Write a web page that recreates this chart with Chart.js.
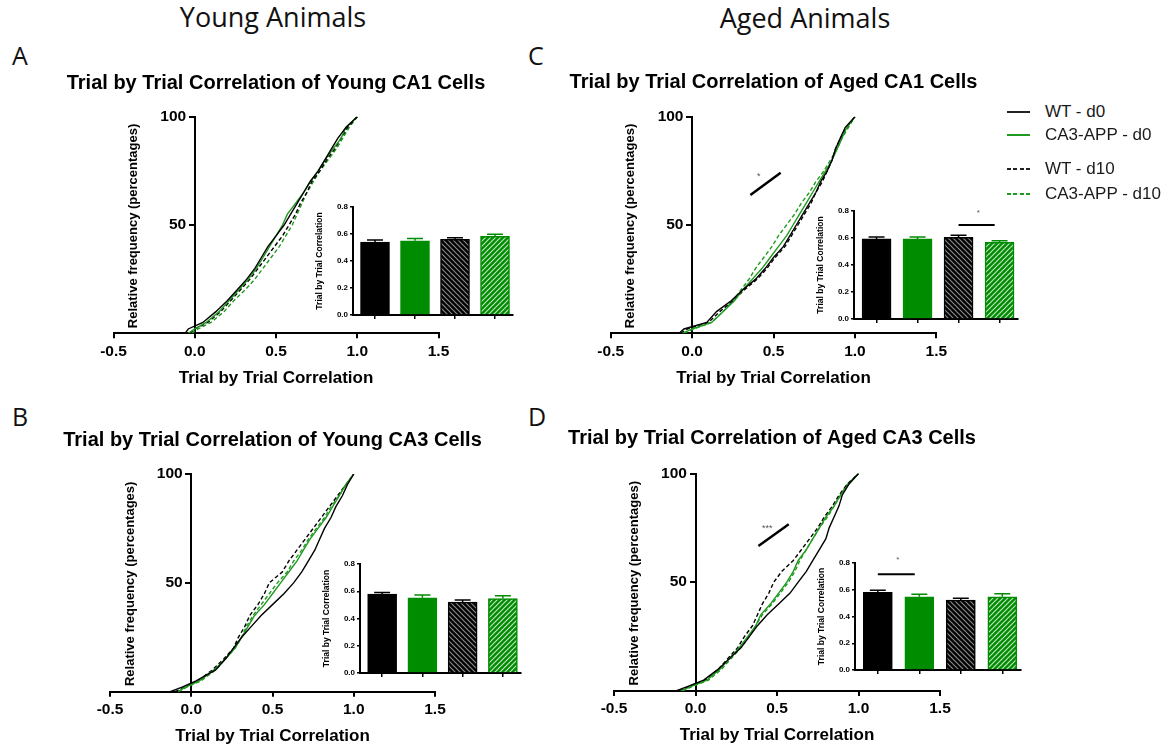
<!DOCTYPE html>
<html><head><meta charset="utf-8">
<script src="https://cdn.jsdelivr.net/npm/chart.js@4.4.1/dist/chart.umd.min.js"></script>
<style>
html,body{margin:0;padding:0;background:#fff;}
body{width:1174px;height:749px;position:relative;overflow:hidden;font-family:"Liberation Sans",Arial,sans-serif;}
canvas{position:absolute;}
.hdr{position:absolute;font-family:"Open Sans",sans-serif;font-size:27px;color:#111;white-space:nowrap;line-height:27px;transform:translateX(-50%);}
.let{position:absolute;font-family:"Open Sans",sans-serif;font-size:25px;color:#111;line-height:25px;}
.lg{position:absolute;left:1007px;height:20px;display:flex;align-items:center;white-space:nowrap;font-size:17px;color:#1a1a1a;}
.sw{width:23px;height:2px;margin-right:15px;}
</style></head><body>
<div class="hdr" style="left:273px;top:3px">Young Animals</div>
<div class="hdr" style="left:805px;top:4px">Aged Animals</div>
<div class="let" style="left:12px;top:43px">A</div>
<div class="let" style="left:12px;top:404px">B</div>
<div class="let" style="left:528px;top:43px">C</div>
<div class="let" style="left:528px;top:404px">D</div>

<canvas id="cA"></canvas><canvas id="cB"></canvas><canvas id="cC"></canvas><canvas id="cD"></canvas>
<canvas id="iA"></canvas><canvas id="iB"></canvas><canvas id="iC"></canvas><canvas id="iD"></canvas>
<div id="legend"></div>

<script>
// ---------------- DATA ----------------
const PCT = [0, 2, 5, 10, 15, 20, 25, 30, 35, 40, 45, 50, 55, 60, 65, 70, 75, 80, 85, 90, 95, 100];
const SERIES_NAMES = ['WT - d0', 'CA3-APP - d0', 'WT - d10', 'CA3-APP - d10'];

// Panel A: Young CA1 (x = correlation value at each cumulative percentage)
const A_WT_D0   = [-0.06, -0.04, 0.05, 0.13, 0.20, 0.26, 0.32, 0.37, 0.41, 0.45, 0.50, 0.55, 0.59, 0.63, 0.67, 0.71, 0.76, 0.80, 0.84, 0.88, 0.93, 1.00];
const A_APP_D0  = [-0.04, 0.00, 0.07, 0.15, 0.21, 0.27, 0.33, 0.38, 0.42, 0.46, 0.50, 0.54, 0.57, 0.62, 0.67, 0.71, 0.76, 0.80, 0.85, 0.90, 0.93, 1.00];
const A_WT_D10  = [-0.03, 0.00, 0.08, 0.16, 0.22, 0.28, 0.34, 0.39, 0.44, 0.49, 0.54, 0.58, 0.62, 0.65, 0.69, 0.72, 0.77, 0.81, 0.86, 0.90, 0.94, 1.00];
const A_APP_D10 = [-0.02, 0.02, 0.10, 0.18, 0.24, 0.31, 0.37, 0.42, 0.47, 0.52, 0.56, 0.60, 0.63, 0.66, 0.69, 0.73, 0.77, 0.82, 0.87, 0.91, 0.95, 1.00];
// Panel B: Young CA3
const B_WT_D0   = [-0.13, -0.06, 0.03, 0.15, 0.21, 0.26, 0.31, 0.37, 0.43, 0.50, 0.57, 0.63, 0.68, 0.72, 0.76, 0.79, 0.82, 0.86, 0.89, 0.93, 0.96, 1.00];
const B_APP_D0  = [-0.08, -0.04, 0.05, 0.14, 0.21, 0.27, 0.31, 0.35, 0.39, 0.45, 0.50, 0.55, 0.60, 0.65, 0.69, 0.73, 0.78, 0.83, 0.87, 0.91, 0.95, 1.00];
const B_WT_D10  = [-0.10, -0.04, 0.04, 0.13, 0.20, 0.26, 0.29, 0.33, 0.36, 0.41, 0.45, 0.48, 0.56, 0.60, 0.65, 0.70, 0.75, 0.80, 0.85, 0.90, 0.95, 1.00];
const B_APP_D10 = [-0.08, -0.03, 0.06, 0.15, 0.21, 0.27, 0.31, 0.34, 0.38, 0.43, 0.48, 0.53, 0.59, 0.63, 0.68, 0.72, 0.77, 0.82, 0.86, 0.91, 0.95, 1.00];
// Panel C: Aged CA1
const C_WT_D0   = [-0.08, -0.05, 0.09, 0.15, 0.24, 0.31, 0.39, 0.45, 0.50, 0.56, 0.60, 0.64, 0.68, 0.72, 0.76, 0.79, 0.83, 0.86, 0.88, 0.91, 0.94, 1.00];
const C_APP_D0  = [-0.06, 0.00, 0.12, 0.19, 0.26, 0.31, 0.37, 0.43, 0.48, 0.53, 0.58, 0.62, 0.66, 0.70, 0.74, 0.78, 0.82, 0.86, 0.89, 0.92, 0.95, 1.00];
const C_WT_D10  = [-0.07, -0.03, 0.10, 0.17, 0.25, 0.32, 0.40, 0.46, 0.51, 0.57, 0.61, 0.65, 0.69, 0.73, 0.76, 0.80, 0.83, 0.86, 0.88, 0.91, 0.95, 1.00];
const C_APP_D10 = [-0.05, 0.01, 0.12, 0.19, 0.25, 0.30, 0.35, 0.39, 0.44, 0.49, 0.53, 0.58, 0.63, 0.67, 0.72, 0.76, 0.81, 0.85, 0.89, 0.92, 0.96, 1.00];
// Panel D: Aged CA3
const D_WT_D0   = [-0.12, -0.05, 0.05, 0.14, 0.21, 0.28, 0.33, 0.38, 0.44, 0.51, 0.58, 0.63, 0.68, 0.72, 0.76, 0.80, 0.82, 0.85, 0.88, 0.90, 0.94, 1.00];
const D_APP_D0  = [-0.09, -0.03, 0.07, 0.15, 0.21, 0.27, 0.32, 0.37, 0.40, 0.46, 0.51, 0.56, 0.60, 0.63, 0.68, 0.72, 0.76, 0.80, 0.85, 0.89, 0.94, 1.00];
const D_WT_D10  = [-0.10, -0.04, 0.06, 0.14, 0.20, 0.26, 0.30, 0.35, 0.38, 0.41, 0.45, 0.48, 0.53, 0.60, 0.65, 0.70, 0.75, 0.79, 0.84, 0.88, 0.93, 1.00];
const D_APP_D10 = [-0.08, -0.02, 0.08, 0.16, 0.22, 0.28, 0.33, 0.37, 0.41, 0.47, 0.52, 0.57, 0.61, 0.64, 0.68, 0.72, 0.76, 0.81, 0.85, 0.89, 0.93, 1.00];

// Inset bar charts: mean and SEM (order: WT-d0, CA3-APP-d0, WT-d10, CA3-APP-d10)
const A_BAR_MEAN = [0.540, 0.550, 0.560, 0.582];
const A_BAR_SEM  = [0.015, 0.017, 0.012, 0.017];
const B_BAR_MEAN = [0.579, 0.552, 0.520, 0.547];
const B_BAR_SEM  = [0.012, 0.020, 0.015, 0.020];
const C_BAR_MEAN = [0.593, 0.593, 0.605, 0.568];
const C_BAR_SEM  = [0.014, 0.014, 0.015, 0.012];
const D_BAR_MEAN = [0.581, 0.547, 0.522, 0.547];
const D_BAR_SEM  = [0.015, 0.019, 0.015, 0.024];

const X_TICKS_MAIN = [-0.5, 0.0, 0.5, 1.0, 1.5];
const Y_TICKS_MAIN = [0, 50, 100];
const Y_TICKS_INSET = [0.0, 0.2, 0.4, 0.6, 0.8];

// ---------------- STYLE / LAYOUT ----------------
Chart.defaults.font.family = '"Liberation Sans", Arial, Helvetica, sans-serif';
Chart.defaults.color = '#000';
const BLACK = '#000000', GREEN_LINE = '#1f9a1f', GREEN_BAR = '#008c00';

const LAYOUT = {
  A: {rect:{x:0, y:50, w:552, h:350}, area:{l:113.5, r:438.5, t:116.7, b:333.3}, titleY:83.0, xTitleOff:45.0,
      inset:{ax:353, right:513, top:206.5, bottom:314.3}},
  B: {rect:{x:0, y:405, w:545, h:344}, area:{l:110, r:435, t:474, b:691.7}, titleY:440.0, xTitleOff:44.5,
      inset:{ax:360, right:521, top:564, bottom:672.7}},
  C: {rect:{x:540, y:50, w:467.2, h:350}, area:{l:610.7, r:936.5, t:116.7, b:333.3}, titleY:82.0, xTitleOff:45.0,
      inset:{ax:853.5, right:1017.7, top:211, bottom:319}},
  D: {rect:{x:550, y:405, w:444, h:344}, area:{l:614, r:940, t:473.5, b:690.9}, titleY:438.5, xTitleOff:44.0,
      inset:{ax:855, right:1021, top:563.3, bottom:670.7}}
};

function place(cv, r) {
  cv.width = Math.round(r.w); cv.height = Math.round(r.h);
  cv.style.left = r.x + 'px'; cv.style.top = r.y + 'px';
  cv.style.width = Math.round(r.w) + 'px'; cv.style.height = Math.round(r.h) + 'px';
}

const yTitlePlugin = {
  id: 'yTitle',
  afterDraw(chart, args, o) {
    const {ctx, chartArea} = chart;
    ctx.save();
    ctx.translate(chartArea.left + o.dx, (chartArea.top + chartArea.bottom) / 2 + o.dy);
    ctx.rotate(-Math.PI / 2);
    ctx.font = 'bold ' + o.size + 'px "Liberation Sans", Arial, sans-serif';
    ctx.fillStyle = '#000'; ctx.textAlign = 'center'; ctx.textBaseline = 'middle';
    ctx.fillText(o.text, 0, 0);
    ctx.restore();
  }
};

const sigPlugin = {
  id: 'sig',
  afterDraw(chart, args, o) {
    if (!o || !o.lines) return;
    const {ctx} = chart; const xs = chart.scales.x, ys = chart.scales.y;
    ctx.save();
    ctx.strokeStyle = '#000'; ctx.lineWidth = o.lw; ctx.lineCap = 'butt';
    o.lines.forEach(l => {
      ctx.beginPath();
      ctx.moveTo(xs.getPixelForValue(l[0]), ys.getPixelForValue(l[1]));
      ctx.lineTo(xs.getPixelForValue(l[2]), ys.getPixelForValue(l[3]));
      ctx.stroke();
    });
    ctx.fillStyle = '#555'; ctx.textAlign = 'center'; ctx.textBaseline = 'middle';
    ctx.font = o.fs + 'px "Liberation Sans", Arial, sans-serif';
    o.texts.forEach(t => ctx.fillText(t[2], xs.getPixelForValue(t[0]), ys.getPixelForValue(t[1])));
    ctx.restore();
  }
};

const errPlugin = {
  id: 'err',
  afterDatasetsDraw(chart, args, o) {
    const {ctx} = chart; const ys = chart.scales.y;
    const ds = chart.data.datasets[0]; const meta = chart.getDatasetMeta(0);
    ctx.save(); ctx.lineWidth = 1.5;
    meta.data.forEach((el, i) => {
      const top = ys.getPixelForValue(ds.data[i].y + o.sems[i]);
      const w = el.width * 0.55;
      ctx.strokeStyle = o.colors[i];
      ctx.beginPath();
      ctx.moveTo(el.x, el.y); ctx.lineTo(el.x, top);
      ctx.moveTo(el.x - w / 2, top); ctx.lineTo(el.x + w / 2, top);
      ctx.stroke();
    });
    ctx.restore();
  }
};

function spacer(pos, w) {
  return {type: 'linear', axis: 'y', position: pos, display: true, min: 0, max: 1,
          ticks: {display: false}, grid: {display: false}, border: {display: false},
          afterFit: s => { s.width = w; }};
}

function cdfDatasets(s) {
  const styles = [[BLACK, []], [GREEN_LINE, []], [BLACK, [4, 2.5]], [GREEN_LINE, [4, 2.5]]];
  return s.map((xs, k) => ({
    label: SERIES_NAMES[k],
    xAxisID: 'x', yAxisID: 'y',
    data: PCT.map((p, i) => ({x: xs[i], y: p})),
    borderColor: styles[k][0], borderDash: styles[k][1], borderWidth: 1.4,
    pointRadius: 0, showLine: true, fill: false, tension: 0
  }));
}

function makeCdf(id, L, title, series, sig) {
  const cv = document.getElementById(id); place(cv, L.rect);
  const r = L.rect, a = L.area;
  const TS = 20, tlh = TS * 1.2, XH = 60, XTS = 17;
  new Chart(cv, {
    type: 'scatter',
    data: {datasets: cdfDatasets(series)},
    options: {
      responsive: false, animation: false, events: [],
      layout: {padding: {left: 0, right: 0, top: L.titleY - r.y - tlh / 2, bottom: r.y + r.h - (a.b + XH)}},
      plugins: {
        legend: {display: false}, tooltip: {enabled: false},
        title: {display: true, text: title, fullSize: true, color: '#000', font: {size: TS, weight: 'bold'},
                padding: {top: 0, bottom: a.t - L.titleY - tlh / 2}},
        yTitle: {text: 'Relative frequency (percentages)', size: 13, dx: 20, dy: 1},
        sig: sig
      },
      scales: {
        x: {
          type: 'linear', axis: 'x', position: 'bottom', min: X_TICKS_MAIN[0], max: X_TICKS_MAIN[X_TICKS_MAIN.length - 1],
          afterFit: s => { s.height = XH; },
          afterBuildTicks: s => { s.ticks = X_TICKS_MAIN.map(v => ({value: v})); },
          ticks: {callback: v => Number(v).toFixed(1), font: {size: 15.5, weight: 'bold'}, color: '#000', padding: 4, maxRotation: 0, autoSkip: false},
          grid: {drawOnChartArea: false, tickLength: 5, color: '#000', lineWidth: 2},
          border: {color: '#000', width: 2},
          title: {display: true, text: 'Trial by Trial Correlation', color: '#000', font: {size: XTS, weight: 'bold'},
                  padding: {top: 0, bottom: XH - L.xTitleOff - XTS * 0.6}}
        },
        y: {
          type: 'linear', axis: 'y', min: 0, max: 100, position: {x: 0},
          afterBuildTicks: s => { s.ticks = Y_TICKS_MAIN.map(v => ({value: v})); },
          ticks: {callback: v => v === 0 ? '' : v + '  ', font: {size: 15.5, weight: 'bold'}, color: '#000'},
          grid: {drawOnChartArea: false, tickLength: 5, color: '#000', lineWidth: 2},
          border: {color: '#000', width: 2}
        },
        padL: spacer('left', a.l - r.x),
        padR: spacer('right', r.x + r.w - a.r)
      }
    },
    plugins: [yTitlePlugin, sigPlugin]
  });
}

function hatch(ctx, bg, fg, dir) {
  const c = document.createElement('canvas'); c.width = 5; c.height = 5;
  const g = c.getContext('2d');
  g.fillStyle = bg; g.fillRect(0, 0, 5, 5);
  g.strokeStyle = fg; g.lineWidth = 1.2; g.beginPath();
  if (dir > 0) { g.moveTo(-1, 6); g.lineTo(6, -1); g.moveTo(-1, 1); g.lineTo(1, -1); g.moveTo(4, 6); g.lineTo(6, 4); }
  else { g.moveTo(-1, -1); g.lineTo(6, 6); g.moveTo(4, -1); g.lineTo(6, 1); g.moveTo(-1, 4); g.lineTo(1, 6); }
  g.stroke();
  return ctx.createPattern(c, 'repeat');
}

function makeInset(id, G, means, sems, sig) {
  const cv = document.getElementById(id);
  const rect = {x: G.ax - 50, y: G.top - 12, w: (G.right + 8) - (G.ax - 50), h: (G.bottom + 12) - (G.top - 12)};
  place(cv, rect);
  const ctx = cv.getContext('2d');
  const pBlack = hatch(ctx, '#000', '#8a8a8a', -1);
  const pGreen = hatch(ctx, GREEN_BAR, '#bfe3bf', 1);
  const colors = [BLACK, GREEN_BAR, BLACK, GREEN_BAR];
  new Chart(cv, {
    type: 'bar',
    data: {datasets: [{
      label: 'Trial by Trial Correlation',
      data: means.map((m, i) => ({x: i, y: m})),
      backgroundColor: [BLACK, GREEN_BAR, pBlack, pGreen],
      borderColor: colors, borderWidth: 1.5, borderSkipped: 'start',
      barThickness: 29
    }]},
    options: {
      responsive: false, animation: false, events: [],
      layout: {padding: {left: 0, right: 8, top: 12, bottom: 4}},
      plugins: {legend: {display: false}, tooltip: {enabled: false},
        err: {sems: sems, colors: colors}, sig: sig},
      scales: {
        x: {
          type: 'linear', min: -0.55, max: 3.45, offset: false,
          afterFit: s => { s.height = 8; },
          afterBuildTicks: s => { s.ticks = [0, 1, 2, 3].map(v => ({value: v})); },
          ticks: {display: false},
          grid: {drawOnChartArea: false, offset: false, tickLength: 4, color: '#000', lineWidth: 1.5},
          border: {color: '#000', width: 2}
        },
        y: {
          min: 0, max: 0.8,
          afterFit: s => { s.width = 50; },
          afterBuildTicks: s => { s.ticks = Y_TICKS_INSET.map(v => ({value: v})); },
          ticks: {callback: v => Number(v).toFixed(1), font: {size: 8, weight: 'bold'}, color: '#000', padding: 2},
          grid: {drawOnChartArea: false, tickLength: 3, color: '#000', lineWidth: 1.5},
          border: {color: '#000', width: 2},
          title: {display: true, text: 'Trial by Trial Correlation', color: '#000', font: {size: 8.5, weight: 'bold'},
                  padding: {top: 17 - 8.5 * 0.6, bottom: 0}}
        }
      }
    },
    plugins: [errPlugin, sigPlugin]
  });
}

// ---------------- BUILD ----------------
makeCdf('cA', LAYOUT.A, 'Trial by Trial Correlation of Young CA1 Cells', [A_WT_D0, A_APP_D0, A_WT_D10, A_APP_D10], null);
makeCdf('cB', LAYOUT.B, 'Trial by Trial Correlation of Young CA3 Cells', [B_WT_D0, B_APP_D0, B_WT_D10, B_APP_D10], null);
makeCdf('cC', LAYOUT.C, 'Trial by Trial Correlation of Aged CA1 Cells', [C_WT_D0, C_APP_D0, C_WT_D10, C_APP_D10],
        {lw: 2.5, fs: 9, lines: [[0.358, 63.8, 0.544, 74.1]], texts: [[0.41, 72.5, '*']]});
makeCdf('cD', LAYOUT.D, 'Trial by Trial Correlation of Aged CA3 Cells', [D_WT_D0, D_APP_D0, D_WT_D10, D_APP_D10],
        {lw: 2.5, fs: 9, lines: [[0.386, 66.7, 0.572, 76.7]], texts: [[0.44, 74.6, '***']]});

makeInset('iA', LAYOUT.A.inset, A_BAR_MEAN, A_BAR_SEM, null);
makeInset('iB', LAYOUT.B.inset, B_BAR_MEAN, B_BAR_SEM, null);
makeInset('iC', LAYOUT.C.inset, C_BAR_MEAN, C_BAR_SEM, {lw: 2, fs: 8, lines: [[2.0, 0.696, 2.88, 0.696]], texts: [[2.48, 0.787, '*']]});
makeInset('iD', LAYOUT.D.inset, D_BAR_MEAN, D_BAR_SEM, {lw: 2, fs: 8, lines: [[0.0, 0.715, 0.89, 0.715]], texts: [[0.48, 0.822, '*']]});

// Legend (HTML text)
const LEG_Y = [111.5, 135, 168.5, 194];
const LEG_STYLE = [
  'background:#222', 'background:' + GREEN_LINE,
  'background:repeating-linear-gradient(to right,#222 0 4px,transparent 4px 6.5px)',
  'background:repeating-linear-gradient(to right,' + GREEN_LINE + ' 0 4px,transparent 4px 6.5px)'
];
const legEl = document.getElementById('legend');
SERIES_NAMES.forEach((n, i) => {
  const d = document.createElement('div'); d.className = 'lg'; d.style.top = (LEG_Y[i] - 10) + 'px';
  const s = document.createElement('span'); s.className = 'sw'; s.style.cssText = LEG_STYLE[i];
  d.appendChild(s); d.appendChild(document.createTextNode(n)); legEl.appendChild(d);
});
</script>
</body></html>
